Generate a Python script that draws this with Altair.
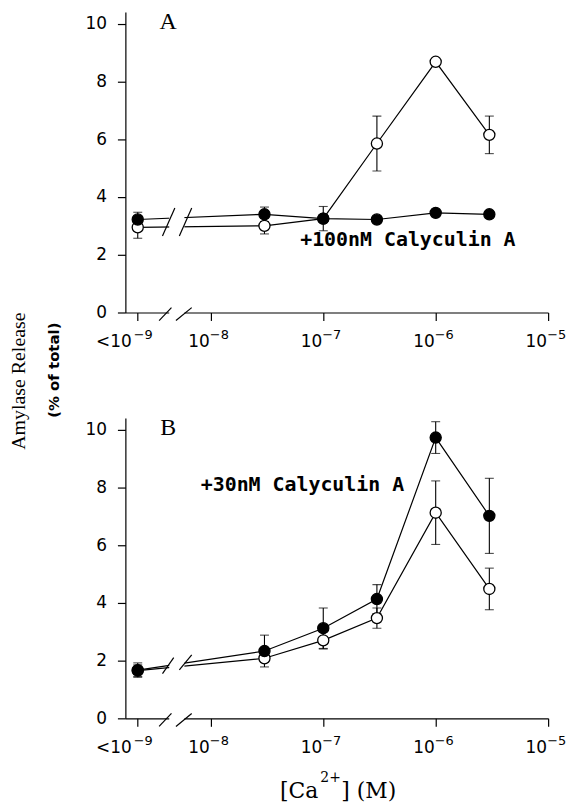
import altair as alt
import pandas as pd
import numpy as np

# ---------------- data ----------------
conc = [np.nan, 3e-8, 1e-7, 3e-7, 1e-6, 3e-6]          # [Ca2+] (M); first = "<10^-9"
low_pos = -8.65                                          # axis position used for "<10^-9"

A_ctrl = [2.95, 3.00, 3.25, 5.85, 8.68, 6.15]
A_ctrl_sem = [0.38, 0.28, 0.42, 0.95, 0.00, 0.65]
A_caly = [3.22, 3.40, 3.25, 3.22, 3.45, 3.40]
A_caly_sem = [0.25, 0.25, 0.12, 0.00, 0.12, 0.00]

B_ctrl = [1.65, 2.08, 2.70, 3.47, 7.12, 4.48]
B_ctrl_sem = [0.20, 0.12, 0.30, 0.35, 1.10, 0.72]
B_caly = [1.67, 2.33, 3.12, 4.13, 9.72, 7.01]
B_caly_sem = [0.25, 0.55, 0.70, 0.50, 0.55, 1.30]

tick_vals = [-8.65, -8, -7, -6, -5]
tick_base = ["<10", "10", "10", "10", "10"]
tick_exp = ["−9", "−8", "−7", "−6", "−5"]
y_ticks = [0, 2, 4, 6, 8, 10]

# axis-break decoration (data units)
break_gap = [-8.37, -8.235]
A_slashes = [(-8.43, 2.65, -8.32, 3.62), (-8.28, 2.65, -8.17, 3.62),
             (-8.46, -0.28, -8.35, 0.17), (-8.31, -0.28, -8.17, 0.17)]
B_slashes = [(-8.43, 1.55, -8.33, 2.10), (-8.28, 1.68, -8.17, 2.20),
             (-8.46, -0.28, -8.35, 0.17), (-8.31, -0.28, -8.17, 0.17)]

XDOM = [-8.76, -5.0]
YDOM = [0, 10.4]
W, H = 425, 302


def xpos():
    return [low_pos if np.isnan(c) else float(np.log10(c)) for c in conc]


def make_df(ctrl, ctrl_sem, caly, caly_sem):
    xs = xpos()
    rows = []
    for s, vals, sems in (("control", ctrl, ctrl_sem), ("calyculin", caly, caly_sem)):
        for x, v, e in zip(xs, vals, sems):
            rows.append({"series": s, "x": x, "y": v, "lo": v - e, "hi": v + e})
    return pd.DataFrame(rows)


ticks_df = pd.DataFrame({"x": tick_vals, "base": tick_base, "exp": tick_exp})
first_df = ticks_df.iloc[:1]
rest_df = ticks_df.iloc[1:]


def panel(df, slashes, letter, note, note_xy, extra_layers):
    xaxis = alt.Axis(values=tick_vals, labels=False, tickSize=8,
                     domainColor="black", tickColor="black",
                     domainWidth=1.2, tickWidth=1.2, grid=False, title=None)
    yaxis = alt.Axis(values=y_ticks, format="d", tickSize=8, labelPadding=11,
                     labelFont="DejaVu Sans", labelFontSize=17, labelColor="black",
                     domainColor="black", tickColor="black", domainWidth=1.2,
                     tickWidth=1.2, grid=False, title=None)
    X = alt.X("x:Q", scale=alt.Scale(domain=XDOM, nice=False, zero=False), axis=xaxis)
    Y = alt.Y("y:Q", scale=alt.Scale(domain=YDOM, nice=False), axis=yaxis)
    Xp = alt.X("x:Q", scale=alt.Scale(domain=XDOM, nice=False, zero=False))
    Yp = alt.Y("y:Q", scale=alt.Scale(domain=YDOM, nice=False))

    base = alt.Chart(df)
    lines = base.mark_line(color="black", strokeWidth=1.2).encode(
        x=X, y=Y, detail="series:N")

    gap = alt.Chart(pd.DataFrame({"x": [break_gap[0]], "x2": [break_gap[1]],
                                  "y": [-0.35], "y2": [10.0]})).mark_rect(
        color="white").encode(x=Xp, x2="x2:Q", y=Yp, y2="y2:Q")

    sl = pd.DataFrame(slashes, columns=["x", "y", "x2", "y2"])
    slash = alt.Chart(sl).mark_rule(color="black", strokeWidth=1.2).encode(
        x=Xp, y=Yp, x2="x2:Q", y2="y2:Q")

    ylo = alt.Y("lo:Q", scale=alt.Scale(domain=YDOM, nice=False))
    yhi = alt.Y("hi:Q", scale=alt.Scale(domain=YDOM, nice=False))
    err = base.mark_rule(color="black", strokeWidth=1.1).encode(x=Xp, y=ylo, y2="hi:Q")
    cap_lo = base.mark_tick(color="black", orient="horizontal", size=9,
                            thickness=1.1).encode(x=Xp, y=ylo)
    cap_hi = base.mark_tick(color="black", orient="horizontal", size=9,
                            thickness=1.1).encode(x=Xp, y=yhi)

    pts = base.mark_point(shape="circle", filled=True, size=125, stroke="black",
                          strokeWidth=1.3, opacity=1).encode(
        x=Xp, y=Yp,
        fill=alt.Fill("series:N", scale=alt.Scale(domain=["control", "calyculin"],
                                                  range=["white", "black"]), legend=None))

    # x tick labels with real superscript exponents
    tb = alt.Chart(rest_df).mark_text(font="DejaVu Sans", fontSize=17, align="right",
                                      baseline="alphabetic", dx=-1, color="black").encode(
        x=Xp, y=alt.value(H + 35), text="base:N")
    te = alt.Chart(rest_df).mark_text(font="DejaVu Sans", fontSize=13, align="left",
                                      baseline="alphabetic", dx=-1, color="black").encode(
        x=Xp, y=alt.value(H + 27), text="exp:N")
    fb = alt.Chart(first_df).mark_text(font="DejaVu Sans", fontSize=17, align="right",
                                       baseline="alphabetic", dx=-6, color="black").encode(
        x=Xp, y=alt.value(H + 35), text="base:N")
    fe = alt.Chart(first_df).mark_text(font="DejaVu Sans", fontSize=13, align="left",
                                       baseline="alphabetic", dx=-4, color="black").encode(
        x=Xp, y=alt.value(H + 27), text="exp:N")

    lab = alt.Chart(pd.DataFrame({"t": [letter]})).mark_text(
        font="Liberation Serif", fontSize=24, align="center", baseline="alphabetic",
        color="black").encode(text="t:N", x=alt.value(43), y=alt.value(17))

    nt = alt.Chart(pd.DataFrame({"t": [note]})).mark_text(
        font="DejaVu Sans Mono", fontSize=20, fontWeight="bold", align="center",
        baseline="middle", color="black").encode(
        text="t:N", x=alt.value(note_xy[0]), y=alt.value(note_xy[1]))

    layers = [lines, gap, slash, err, cap_lo, cap_hi, pts, tb, te, fb, fe, lab, nt] + extra_layers
    return alt.layer(*layers).properties(width=W, height=H)


ytitle = alt.Chart(pd.DataFrame({"t": ["Amylase Release"]})).mark_text(
    font="Liberation Serif", fontSize=20, angle=270, align="center",
    baseline="middle", color="black").encode(
    text="t:N", x=alt.value(-107), y=alt.value(371))
ysub = alt.Chart(pd.DataFrame({"t": ["(% of total)"]})).mark_text(
    font="DejaVu Sans", fontSize=15, fontWeight="bold", angle=270, align="center",
    baseline="middle", color="black").encode(
    text="t:N", x=alt.value(-72), y=alt.value(360))

xt_df = pd.DataFrame({"a": ["[Ca"], "s": ["2+"], "b": ["] (M)"]})
xt1 = alt.Chart(xt_df).mark_text(font="DejaVu Serif", fontSize=22, align="right",
                                 baseline="alphabetic", color="black").encode(
    text="a:N", x=alt.value(194), y=alt.value(H + 80))
xt2 = alt.Chart(xt_df).mark_text(font="DejaVu Serif", fontSize=14, align="left",
                                 baseline="alphabetic", color="black").encode(
    text="s:N", x=alt.value(196), y=alt.value(H + 64))
xt3 = alt.Chart(xt_df).mark_text(font="DejaVu Serif", fontSize=22, align="left",
                                 baseline="alphabetic", color="black").encode(
    text="b:N", x=alt.value(217), y=alt.value(H + 80))

dfA = make_df(A_ctrl, A_ctrl_sem, A_caly, A_caly_sem)
dfB = make_df(B_ctrl, B_ctrl_sem, B_caly, B_caly_sem)

chartA = panel(dfA, A_slashes, "A", "+100nM Calyculin A", (284, 229), [ytitle, ysub])
chartB = panel(dfB, B_slashes, "B", "+30nM Calyculin A", (178, 67), [xt1, xt2, xt3])

chart = alt.vconcat(chartA, chartB, spacing=106).properties(
    bounds="flush",
    padding={"left": 1, "top": 0, "right": 5, "bottom": 0}
).configure_view(strokeWidth=0, stroke="transparent")

chart.save("out.html", embed_options={"renderer": "svg", "actions": False})
